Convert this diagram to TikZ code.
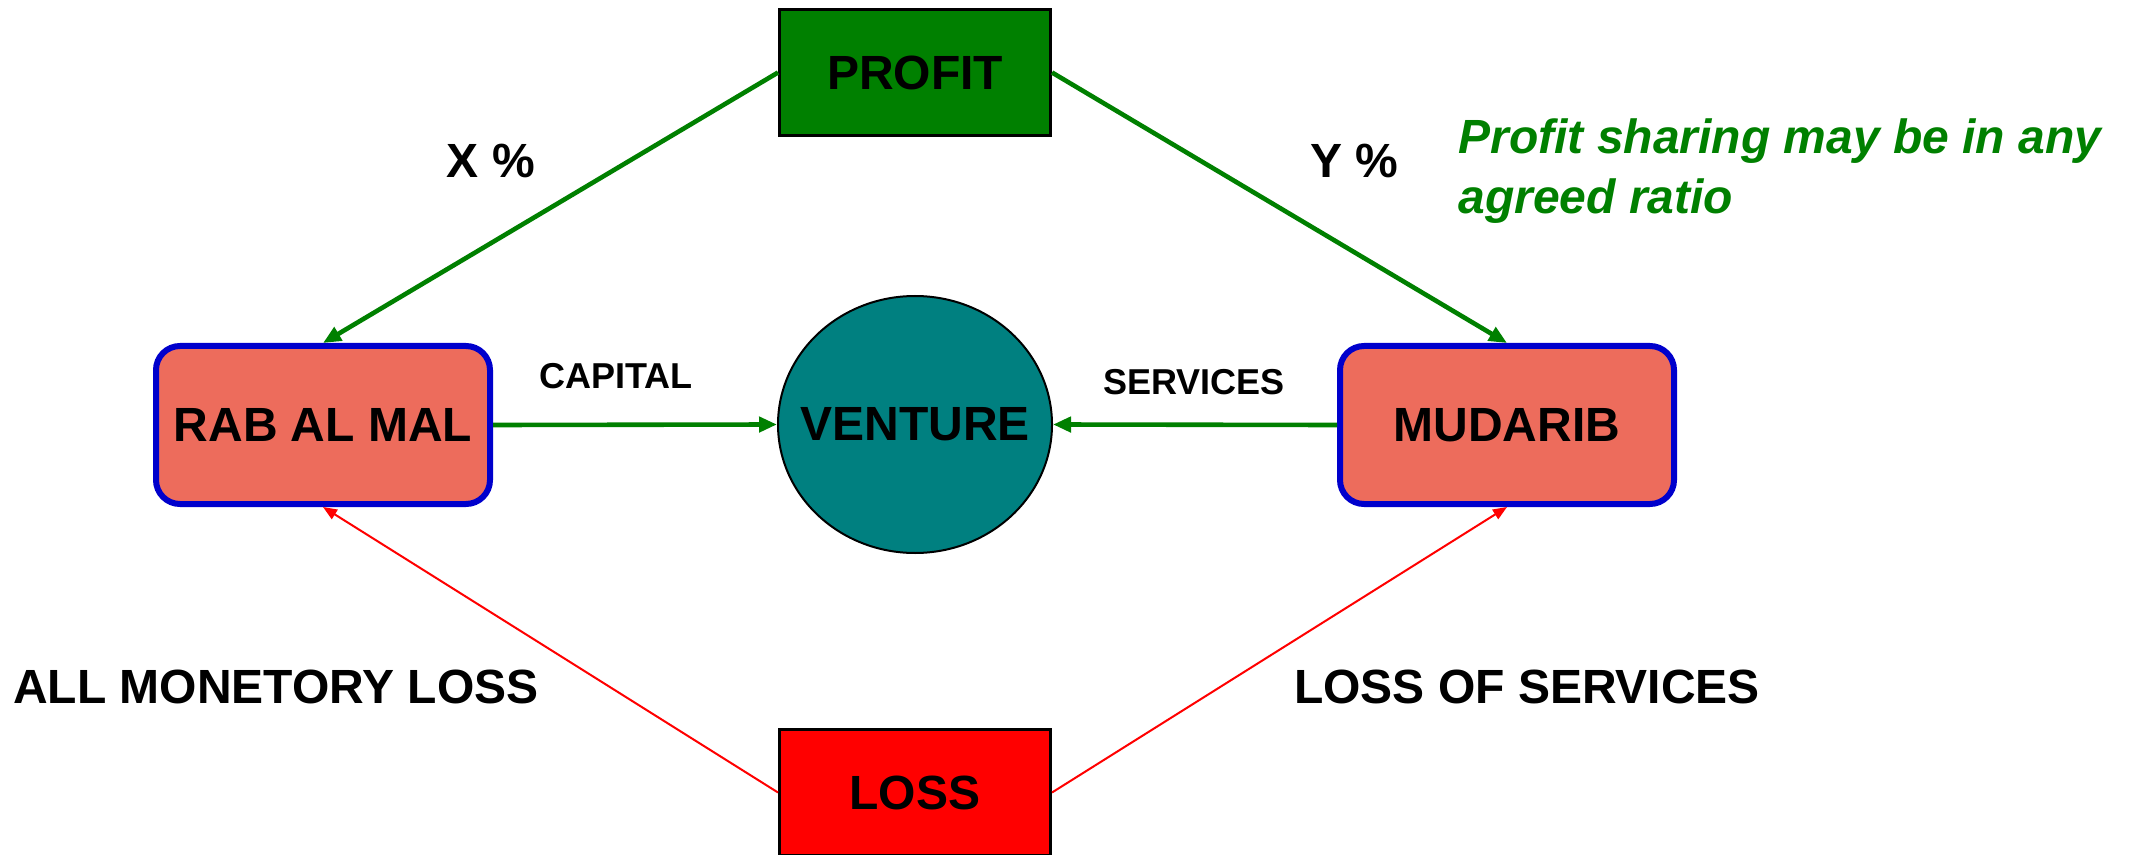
\documentclass[tikz,border=0pt]{standalone}
\usepackage{fontspec}
\setmainfont{Liberation Sans}
\usetikzlibrary{shapes.geometric,arrows.meta}
\definecolor{pgreen}{RGB}{0,128,0}
\definecolor{teal}{RGB}{0,128,128}
\definecolor{salmon}{RGB}{237,108,92}
\definecolor{partyblue}{RGB}{0,0,204}
\begin{document}
\begin{tikzpicture}[x=0.5pt,y=-0.5pt,
  big/.style={font=\fontsize{24}{30}\selectfont\bfseries},
  small/.style={font=\fontsize{18}{22}\selectfont\bfseries},
  outcome/.style={big,draw=black,line width=1.5pt,minimum width=135.5pt,minimum height=63pt,inner sep=0pt},
  party/.style={big,draw=partyblue,fill=salmon,line width=3pt,rounded corners=12pt,minimum width=167pt,minimum height=79pt,inner sep=0pt},
  gain/.style={draw=pgreen,line width=2.3pt,-{Triangle[length=9pt,width=7.5pt]}},
  lose/.style={draw=red,line width=1pt,-{Triangle[length=7pt,width=5.5pt]}}]
\useasboundingbox (0,0) rectangle (2134,855);
\fill[white] (0,0) rectangle (2134,855);

% outcomes and parties
\node[outcome,fill=pgreen] (profit) at (915,72.5) {PROFIT};
\node[outcome,fill=red] (loss) at (915,792.5) {LOSS};
\node[party] (rab) at (323,425) {RAB AL MAL};
\node[party] (mud) at (1507,425) {MUDARIB};
\node[ellipse,draw=black,line width=1pt,fill=teal,minimum width=137pt,minimum height=128.5pt,inner sep=0pt,
      label={[big]center:VENTURE}] (venture) at (915,424.5) {};

% profit shares
\draw[gain] (profit.west) -- (rab.north);
\draw[gain] (profit.east) -- (mud.north);
% contributions
\draw[gain] (rab.east) -- (venture.west);
\draw[gain] (mud.west) -- (venture.east);
% losses
\draw[lose] (loss.west) -- (rab.south);
\draw[lose] (loss.east) -- (mud.south);

% labels
\node[big] (xp) at (491,161) {X \%};
\node[big] (yp) at (1354,161) {Y \%};
\node[small] (cap) at (616,376) {CAPITAL};
\node[small] (serv) at (1194,382) {SERVICES};
\node[big] (allloss) at (276,687) {ALL MONETORY LOSS};
\node[big] (servloss) at (1527,687) {LOSS OF SERVICES};
\node[font=\fontsize{24}{30}\selectfont\bfseries\itshape,text=pgreen,align=left,anchor=north west,inner sep=0pt] (note) at (1458,118) {Profit sharing may be in any\\agreed ratio};
\end{tikzpicture}
\end{document}
